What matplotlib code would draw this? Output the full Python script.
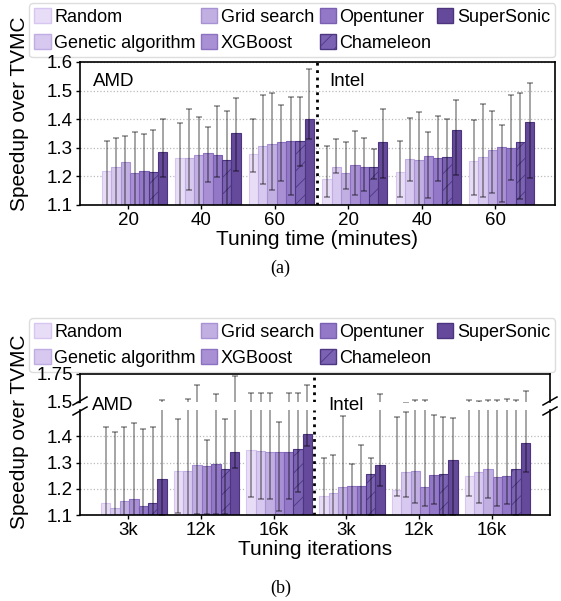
import numpy as np
import matplotlib
matplotlib.use('Agg')
import matplotlib.pyplot as plt
from matplotlib.patches import Patch

plt.rcParams['font.family'] = ['Liberation Sans', 'DejaVu Sans']
plt.rcParams['hatch.linewidth'] = 0.6

methods = ["Random", "Genetic algorithm", "Grid search", "XGBoost", "Opentuner", "Chameleon", "SuperSonic"]
colors = ['#e8ddf7', '#d6c8ee', '#c1afe2', '#a990d4', '#9278c6', '#7c62b3', '#654a9c']
edges = ['#d6c6f0', '#c0ade3', '#a892d4', '#8e72c2', '#7a5fb3', '#4e3782', '#4d347f']

# (a) tuning time, groups: AMD 20/40/60, Intel 20/40/60
time_ticks = ["20", "40", "60", "20", "40", "60"]
time_mean = [
    [1.219, 1.263, 1.278, 1.192, 1.215, 1.254],
    [1.232, 1.263, 1.305, 1.234, 1.261, 1.267],
    [1.250, 1.274, 1.314, 1.211, 1.257, 1.292],
    [1.211, 1.281, 1.321, 1.240, 1.271, 1.304],
    [1.218, 1.274, 1.325, 1.233, 1.263, 1.300],
    [1.215, 1.256, 1.325, 1.233, 1.268, 1.320],
    [1.285, 1.352, 1.400, 1.320, 1.362, 1.389],
]
time_hi = [
    [1.325, 1.386, 1.400, 1.305, 1.323, 1.397],
    [1.333, 1.436, 1.486, 1.330, 1.403, 1.453],
    [1.342, 1.407, 1.490, 1.319, 1.426, 1.430],
    [1.355, 1.372, 1.448, 1.359, 1.356, 1.380],
    [1.350, 1.445, 1.477, 1.333, 1.412, 1.483],
    [1.362, 1.428, 1.479, 1.295, 1.400, 1.490],
    [1.400, 1.475, 1.576, 1.437, 1.467, 1.528],
]
time_lo = [
    [1.05, 1.05, 1.217, 1.129, 1.129, 1.135],
    [1.05, 1.152, 1.172, 1.211, 1.184, 1.129],
    [1.05, 1.05, 1.152, 1.155, 1.05, 1.141],
    [1.05, 1.179, 1.185, 1.134, 1.126, 1.109],
    [1.05, 1.198, 1.134, 1.149, 1.184, 1.187],
    [1.05, 1.05, 1.236, 1.191, 1.05, 1.122],
    [1.199, 1.219, 1.332, 1.193, 1.206, 1.195],
]

# (b) tuning iterations, groups: AMD 3k/12k/16k, Intel 3k/12k/16k
iter_ticks = ["3k", "12k", "16k", "3k", "12k", "16k"]
iter_mean = [
    [1.147, 1.267, 1.349, 1.173, 1.197, 1.249],
    [1.126, 1.267, 1.343, 1.184, 1.265, 1.262],
    [1.154, 1.290, 1.339, 1.207, 1.269, 1.276],
    [1.161, 1.288, 1.339, 1.212, 1.205, 1.246],
    [1.134, 1.295, 1.339, 1.210, 1.253, 1.249],
    [1.145, 1.274, 1.353, 1.255, 1.257, 1.276],
    [1.239, 1.341, 1.409, 1.290, 1.311, 1.375],
]
iter_hi = [
    [1.435, 1.464, 1.58, 1.316, 1.474, 1.515],
    [1.415, 1.525, 1.58, 1.330, 1.492, 1.510],
    [1.435, 1.653, 1.58, 1.477, 1.515, 1.515],
    [1.451, 1.387, 1.454, 1.294, 1.515, 1.515],
    [1.427, 1.567, 1.58, 1.366, 1.480, 1.530],
    [1.435, 1.464, 1.58, 1.316, 1.474, 1.515],
    [1.522, 1.736, 1.653, 1.570, 1.470, 1.600],
]
iter_lo = [
    [1.05, 1.106, 1.170, 1.05, 1.173, 1.174],
    [1.05, 1.05, 1.161, 1.05, 1.170, 1.145],
    [1.05, 1.104, 1.161, 1.05, 1.145, 1.164],
    [1.05, 1.104, 1.117, 1.10, 1.134, 1.134],
    [1.05, 1.104, 1.161, 1.05, 1.141, 1.141],
    [1.05, 1.104, 1.187, 1.10, 1.10, 1.10],
    [1.10, 1.280, 1.364, 1.211, 1.10, 1.262],
]

fig = plt.figure(figsize=(5.61, 6.01), dpi=100)

TICK = 13.5
LAB = 15


def fx(px):
    return px / 561


def fy(py):
    return 1 - py / 601


def draw_bars(ax, means, his, los, w, start):
    g = np.arange(6)
    for i in range(7):
        x = g + start + (i + 0.5) * w
        m = np.array(means[i])
        ax.bar(x, m - 1.0, w, bottom=1.0, color=colors[i], edgecolor=edges[i],
               linewidth=0.8, hatch='//' if i == 5 else None, zorder=2)
        err = [m - np.array(los[i]), np.array(his[i]) - m]
        ax.errorbar(x, m, yerr=err, fmt='none', ecolor='black', alpha=0.45,
                    elinewidth=1.1, capsize=2.4, capthick=1.1, zorder=3)


def style(ax):
    for s in ax.spines.values():
        s.set_linewidth(1.2)
    ax.tick_params(labelsize=TICK, length=3, width=1, pad=2)


# ---- (a)
ax1 = fig.add_axes([fx(80), fy(205), fx(475), 143 / 601])
draw_bars(ax1, time_mean, time_hi, time_lo, 0.127, -0.354)
ax1.set_xlim(-0.654, 5.817)
ax1.set_ylim(1.1, 1.6)
ax1.set_yticks([1.1, 1.2, 1.3, 1.4, 1.5, 1.6])
ax1.set_xticks(np.arange(6))
ax1.set_xticklabels(time_ticks)
ax1.yaxis.grid(True, linestyle=':', color='#bbbbbb', linewidth=0.9, zorder=0)
ax1.set_axisbelow(True)
ax1.axvline(2.575, color='black', linestyle=':', linewidth=2, zorder=4)
ax1.text(0.027, 0.83, "AMD", transform=ax1.transAxes, fontsize=TICK)
ax1.text(0.525, 0.83, "Intel", transform=ax1.transAxes, fontsize=TICK)
ax1.set_xlabel("Tuning time (minutes)", fontsize=LAB, labelpad=1)
style(ax1)
fig.text(fx(20), fy(114), "Speedup over TVMC", rotation=90, fontsize=LAB,
         ha='center', va='center')

# ---- (b) broken axis
ax2u = fig.add_axes([fx(80), fy(402), fx(470), 28 / 601])
ax2 = fig.add_axes([fx(80), fy(515), fx(470), 105 / 601])
for a in (ax2u, ax2):
    draw_bars(a, iter_mean, iter_hi, iter_lo, 0.129, -0.375)
    a.set_xlim(-0.664, 5.80)
    a.axvline(2.56, color='black', linestyle=':', linewidth=2, zorder=4)
    style(a)
ax2.set_ylim(1.1, 1.5)
ax2.set_yticks([1.1, 1.2, 1.3, 1.4])
ax2.yaxis.grid(True, linestyle=':', color='#bbbbbb', linewidth=0.9, zorder=0)
ax2.set_axisbelow(True)
ax2.set_xticks(np.arange(6))
ax2.set_xticklabels(iter_ticks)
ax2.spines['top'].set_visible(False)
ax2.set_xlabel("Tuning iterations", fontsize=LAB, labelpad=1)
ax2u.set_ylim(1.5, 1.75)
ax2u.set_yticks([1.5, 1.75])
ax2u.set_yticklabels(["1.5", "1.75"])
ax2u.set_xticks([])
ax2u.spines['bottom'].set_visible(False)

# break marks
kw = dict(color='black', linewidth=1.1, clip_on=False)
for xp in (80, 550):
    for yp in (401, 411):
        fig.add_artist(plt.Line2D([fx(xp - 7), fx(xp + 7)], [fy(yp + 4), fy(yp - 4)], **kw))

fig.text(fx(92), fy(405), "AMD", fontsize=TICK, va='center')
fig.text(fx(328), fy(405), "Intel", fontsize=TICK, va='center')
fig.text(fx(20), fy(432), "Speedup over TVMC", rotation=90, fontsize=LAB,
         ha='center', va='center')

# legends (drawn under the axes so the 1.75 tick label stays readable)
handles = [Patch(facecolor=colors[i], edgecolor=edges[i], hatch='//' if i == 5 else None,
                 label=methods[i]) for i in range(7)]
for ytop in (3, 318):
    leg = fig.legend(handles=handles, loc='upper left', bbox_to_anchor=(fx(29), fy(ytop)),
                     ncol=4, fontsize=13, handlelength=0.9, handleheight=0.9,
                     handletextpad=0.2, columnspacing=0.3, labelspacing=0.45,
                     borderpad=0.3, borderaxespad=0, framealpha=1, edgecolor='#dddddd')
    leg.set_zorder(-1)

fig.text(0.5, fy(268), "(a)", fontsize=13, ha='center', va='center', family='Liberation Serif')
fig.text(0.5, fy(588), "(b)", fontsize=13, ha='center', va='center', family='Liberation Serif')

fig.savefig("out.png", dpi=100)
